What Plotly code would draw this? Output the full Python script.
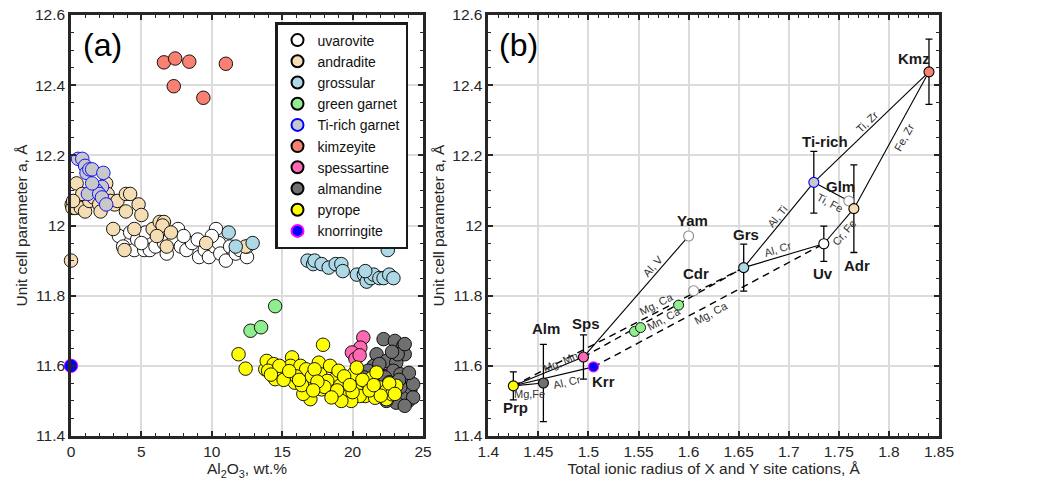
import math
import plotly.graph_objects as go

# ---------------- Panel (a) data: Al2O3 wt.% vs unit cell a ----------------
uva_x = [3.4, 3.7, 4.2, 4.5, 4.7, 5.2, 5.3, 5.6, 6.0, 6.3, 6.6, 7.0, 7.3, 7.6, 7.8, 8.2, 8.6, 9.0,
         9.1, 9.5, 9.8, 10.2, 10.3, 10.5, 10.6, 11.0, 11.3, 11.7, 12.0, 12.5, 12.5, 10.0, 8.0, 6.8, 5.0]
uva_y = [11.97, 11.94, 11.98, 11.93, 11.96, 11.93, 11.98, 11.93, 11.94, 11.98, 11.95, 11.96, 11.96,
         11.99, 11.94, 11.93, 11.95, 11.96, 11.91, 11.93, 11.91, 11.94, 11.99, 11.95, 11.92, 11.90,
         11.94, 11.92, 11.93, 11.91, 11.94, 11.97, 11.97, 11.92, 11.95]

adr_x = [0.0, 0.05, 0.1, 0.4, 0.3, 0.7, 1.0, 1.3, 0.8, 1.6, 2.0, 2.1, 2.5, 2.6, 2.8, 3.1, 3.3, 3.9,
         4.2, 3.9, 4.8, 5.0, 3.0, 3.8, 4.5, 5.8, 6.3, 6.6, 6.5, 6.1, 7.1, 6.8, 9.6, 12.4, 1.8, 0.15]
adr_y = [11.90, 12.06, 12.05, 12.12, 12.05, 12.05, 12.04, 12.07, 12.09, 12.08, 12.06, 12.04, 12.12,
         12.09, 12.07, 12.06, 12.07, 12.09, 12.09, 12.04, 12.06, 12.03, 11.99, 11.93, 11.99, 11.99,
         12.01, 12.01, 12.00, 11.97, 11.98, 11.94, 11.95, 11.94, 12.10, 12.07]

grs_x = [11.2, 11.7, 12.9, 22.5, 16.8, 17.2, 17.3, 17.8, 18.3, 18.8, 19.2, 19.3, 20.3, 20.8, 21.0,
         21.3, 21.5, 21.9, 22.2, 22.6, 22.9, 20.9]
grs_y = [11.98, 11.94, 11.95, 11.93, 11.90, 11.89, 11.90, 11.89, 11.88, 11.89, 11.89, 11.87, 11.86,
         11.86, 11.84, 11.85, 11.86, 11.85, 11.85, 11.86, 11.85, 11.87]

grn_x = [14.5, 12.75, 13.5]
grn_y = [11.77, 11.70, 11.71]

tir_x = [0.5, 0.8, 1.0, 1.1, 1.3, 1.5, 2.3, 2.2, 1.8, 1.2, 2.0, 2.2, 2.5, 1.5]
tir_y = [12.19, 12.19, 12.17, 12.15, 12.16, 12.16, 12.15, 12.11, 12.10, 12.09, 12.09, 12.08, 12.06, 12.12]

kmz_x = [6.6, 7.4, 8.4, 11.0, 7.3, 9.4]
kmz_y = [12.465, 12.476, 12.467, 12.461, 12.397, 12.364]

sps_x = [20.76, 20.55, 19.95, 20.2, 20.5, 22.2, 22.4]
sps_y = [11.681, 11.652, 11.638, 11.62, 11.63, 11.59, 11.571]

alm_x = [22.2, 23.0, 23.6, 23.7, 21.7, 21.5, 22.4, 23.1, 22.9, 23.4, 23.85, 24.1, 23.96, 23.5, 23.1,
         24.3, 23.7, 21.8, 21.1, 22.3, 22.6, 22.0, 22.4, 23.2, 23.4, 20.8, 20.5, 23.7, 24.3, 21.9,
         22.8, 24.0, 23.3, 22.7, 21.4]
alm_y = [11.676, 11.671, 11.657, 11.633, 11.633, 11.60, 11.614, 11.609, 11.586, 11.576, 11.548,
         11.53, 11.50, 11.51, 11.495, 11.51, 11.486, 11.58, 11.586, 11.567, 11.553, 11.52, 11.50,
         11.633, 11.54, 11.567, 11.54, 11.662, 11.548, 11.605, 11.64, 11.58, 11.56, 11.52, 11.53]

prp_x = [11.9, 12.4, 17.9, 13.8, 13.9, 14.4, 14.0, 14.5, 15.7, 15.6, 16.0, 15.3, 16.3, 15.9, 17.0,
         16.7, 17.6, 17.7, 17.8, 18.4, 18.75, 18.6, 19.5, 19.6, 19.0, 20.05, 20.3, 21.0, 20.9, 21.95,
         21.6, 22.4, 23.1, 21.35, 16.7, 17.1, 16.0, 15.0, 15.1, 16.5, 19.1, 20.5, 19.9, 18.2, 19.2,
         22.4, 22.8, 21.7, 14.8, 17.3, 18.0, 18.9, 19.4, 20.7, 21.2, 22.0, 17.5, 16.4, 15.5, 20.0,
         21.5, 18.5, 19.8, 22.6, 23.0, 17.2, 16.2, 14.2, 20.3]
prp_y = [11.633, 11.592, 11.66, 11.59, 11.614, 11.605, 11.586, 11.562, 11.624, 11.60, 11.581, 11.57,
         11.60, 11.552, 11.505, 11.548, 11.609, 11.576, 11.533, 11.60, 11.562, 11.524, 11.519, 11.557,
         11.586, 11.576, 11.538, 11.552, 11.514, 11.538, 11.509, 11.529, 11.543, 11.565, 11.59, 11.57,
         11.57, 11.586, 11.56, 11.52, 11.543, 11.514, 11.50, 11.557, 11.50, 11.505, 11.519, 11.581,
         11.60, 11.59, 11.54, 11.53, 11.57, 11.56, 11.53, 11.515, 11.555, 11.545, 11.585, 11.525,
         11.545, 11.51, 11.545, 11.55, 11.52, 11.53, 11.56, 11.575, 11.595]

krr_x = [0.0]
krr_y = [11.60]

# ---------------- Panel (b) data: ionic radius vs unit cell a ----------------
b_names = ["Prp", "Alm", "Sps", "Krr", "Yam", "Cdr", "Grs", "Ti-rich", "Glm", "Uv", "Adr", "Kmz"]
b_x = [1.425, 1.455, 1.495, 1.505, 1.600, 1.605, 1.655, 1.725, 1.760, 1.735, 1.765, 1.840]
b_y = [11.543, 11.551, 11.625, 11.597, 11.970, 11.814, 11.880, 12.123, 12.070, 11.948, 12.048, 12.438]
b_err = [0.040, 0.110, 0.063, 0.0, 0.0, 0.0, 0.067, 0.088, 0.0, 0.050, 0.125, 0.093]

b_green_x = [1.546, 1.552, 1.590]
b_green_y = [11.698, 11.709, 11.773]

# substitution links: (from, to, label, dashed)
links = [
    ("Prp", "Sps", "Mg, Mn", False),
    ("Prp", "Alm", "Mg,Fe", False),
    ("Prp", "Krr", "Al, Cr", False),
    ("Sps", "Yam", "Al, V", False),
    ("Grs", "Ti-rich", "Al, Ti", False),
    ("Grs", "Uv", "Al, Cr", False),
    ("Ti-rich", "Kmz", "Ti, Zr", False),
    ("Ti-rich", "Glm", "Ti, Fe", False),
    ("Uv", "Adr", "Cr, Fe", False),
    ("Adr", "Kmz", "Fe, Zr", False),
    ("Prp", "Grs", "Mg, Ca", True),
    ("Sps", "Grs", "Mn, Ca", True),
    ("Krr", "Uv", "Mg, Ca", True),
]

# ---------------- styling / layout (not data) ----------------
W, H = 1050, 484
DOM_A = [71 / W, 423 / W]
DOM_B = [488.3 / W, 939 / W]
DOM_Y = [1 - 436 / H, 1 - 15 / H]
FONT = "Liberation Sans, Arial, Helvetica, sans-serif"
AXC = "#262626"

# label placement along each link: t (fraction), rotate flag, xshift, yshift
link_style = {
    0: (0.67, True, 0, 5),
    1: (0.53, False, 0, -10),
    2: (0.67, True, 0, -9),
    3: (0.66, True, 0, 11),
    4: (0.47, True, 0, 11),
    5: (0.43, True, 0, 8),
    6: (0.46, True, 0, 10),
    7: (0.47, True, 0, -12),
    8: (0.66, True, 0, -12),
    9: (0.67, True, 0, -20),
    10: (0.62, True, 0, 9),
    11: (0.50, True, 0, -7),
    12: (0.51, True, 0, -9),
}
# mineral name label offsets (px)
name_shift = {
    "Prp": (2, -22), "Alm": (3, 55), "Sps": (3, 34), "Krr": (10, -15), "Yam": (4, 16),
    "Cdr": (2, 17), "Grs": (2, 33), "Ti-rich": (11, 41), "Glm": (-8, 14), "Uv": (-1, -30),
    "Adr": (3, -57), "Kmz": (-15, 13),
}
b_fill = {
    "Prp": "#ffff00", "Alm": "#707070", "Sps": "#ff69b4", "Krr": "#0000ff", "Yam": "#ffffff",
    "Cdr": "#ffffff", "Grs": "#add8e6", "Ti-rich": "#c8c8c8", "Glm": "#ffffff", "Uv": "#ffffff",
    "Adr": "#f5deb3", "Kmz": "#fa8072",
}
b_edge = {
    "Krr": "#ff00ff", "Yam": "#8c8c8c", "Cdr": "#8c8c8c", "Glm": "#8c8c8c", "Ti-rich": "#0000ff",
}

fig = go.Figure()

groups = [
    ("uvarovite", uva_x, uva_y, "#ffffff", "#000000"),
    ("andradite", adr_x, adr_y, "#f5deb3", "#000000"),
    ("grossular", grs_x, grs_y, "#add8e6", "#000000"),
    ("green garnet", grn_x, grn_y, "#90ee90", "#000000"),
    ("Ti-rich garnet", tir_x, tir_y, "#c8c8c8", "#0000ff"),
    ("kimzeyite", kmz_x, kmz_y, "#fa8072", "#000000"),
    ("spessartine", sps_x, sps_y, "#ff69b4", "#000000"),
    ("almandine", alm_x, alm_y, "#707070", "#000000"),
    ("pyrope", prp_x, prp_y, "#ffff00", "#000000"),
    ("knorringite", krr_x, krr_y, "#0000ff", "#ff00ff"),
]
for name, xs, ys, fc, ec in groups:
    fig.add_trace(go.Scatter(
        x=xs, y=ys, mode="markers", name=name, xaxis="x", yaxis="y", cliponaxis=False,
        marker=dict(size=13.5, color=fc, line=dict(color=ec, width=0.9)),
    ))

# panel (b) lines
idx = {n: i for i, n in enumerate(b_names)}
for a, b, lab, dashed in links:
    i, j = idx[a], idx[b]
    fig.add_trace(go.Scatter(
        x=[b_x[i], b_x[j]], y=[b_y[i], b_y[j]], mode="lines", xaxis="x2", yaxis="y2",
        showlegend=False, hoverinfo="skip",
        line=dict(color="#000000", width=1.4 if dashed else 1.1,
                  dash="7px,5px" if dashed else "solid"),
    ))

# error bars
ex = [b_x[i] for i in range(len(b_names)) if b_err[i] > 0]
ey = [b_y[i] for i in range(len(b_names)) if b_err[i] > 0]
ee = [b_err[i] for i in range(len(b_names)) if b_err[i] > 0]
fig.add_trace(go.Scatter(
    x=ex, y=ey, mode="markers", xaxis="x2", yaxis="y2", showlegend=False, hoverinfo="skip",
    marker=dict(size=1, color="rgba(0,0,0,0)"),
    error_y=dict(type="data", array=ee, visible=True, color="#000000", thickness=1.3, width=3.5),
))

fig.add_trace(go.Scatter(
    x=b_green_x, y=b_green_y, mode="markers", xaxis="x2", yaxis="y2", showlegend=False,
    marker=dict(size=10, color="#90ee90", line=dict(color="#000000", width=0.9)),
))
fig.add_trace(go.Scatter(
    x=b_x, y=b_y, mode="markers", xaxis="x2", yaxis="y2", showlegend=False, cliponaxis=False,
    marker=dict(size=10, color=[b_fill[n] for n in b_names],
                line=dict(color=[b_edge.get(n, "#000000") for n in b_names], width=1.1)),
))

annotations = []
# mineral labels
for n, x, y in zip(b_names, b_x, b_y):
    dx, dy = name_shift[n]
    annotations.append(dict(
        x=x, y=y, xref="x2", yref="y2", text="<b>%s</b>" % n, showarrow=False,
        xanchor="center", yanchor="middle",
        xshift=dx, yshift=dy, font=dict(family=FONT, size=15, color="#1a1a1a"),
    ))

# link labels
pxu = (DOM_B[1] - DOM_B[0]) * W / (1.85 - 1.4)
pyu = (DOM_Y[1] - DOM_Y[0]) * H / (12.6 - 11.4)
for k, (a, b, lab, dashed) in enumerate(links):
    i, j = idx[a], idx[b]
    t, rot, dx, dy = link_style[k]
    xm = b_x[i] + t * (b_x[j] - b_x[i])
    ym = b_y[i] + t * (b_y[j] - b_y[i])
    ang = -math.degrees(math.atan2((b_y[j] - b_y[i]) * pyu, (b_x[j] - b_x[i]) * pxu)) if rot else 0
    annotations.append(dict(
        x=xm, y=ym, xref="x2", yref="y2", text=lab, showarrow=False, textangle=ang,
        xanchor="center", yanchor="middle",
        xshift=dx, yshift=dy, font=dict(family=FONT, size=11, color="#333333"),
    ))

annotations.append(dict(x=102 / W, y=1 - 45 / H, xref="paper", yref="paper", text="(a)",
                        xanchor="center", yanchor="middle",
                        showarrow=False, font=dict(family=FONT, size=32, color="#000000")))
annotations.append(dict(x=518 / W, y=1 - 45 / H, xref="paper", yref="paper", text="(b)",
                        xanchor="center", yanchor="middle",
                        showarrow=False, font=dict(family=FONT, size=32, color="#000000")))

y_vals = [11.4, 11.6, 11.8, 12.0, 12.2, 12.4, 12.6]
y_text = ["11.4", "11.6", "11.8", "12", "12.2", "12.4", "12.6"]
xb_vals = [1.4, 1.45, 1.5, 1.55, 1.6, 1.65, 1.7, 1.75, 1.8, 1.85]
xb_text = ["1.4", "1.45", "1.5", "1.55", "1.6", "1.65", "1.7", "1.75", "1.8", "1.85"]
xa_vals = [0, 5, 10, 15, 20, 25]
xa_text = ["0", "5", "10", "15", "20", "25"]


def ax(domain, rng, vals, text, title, minor_dtick, anchor):
    return dict(
        domain=domain, range=rng, tickmode="array", tickvals=vals, ticktext=text,
        showgrid=True, gridcolor="#dcdcdc", gridwidth=1.5, zeroline=False,
        showline=True, linecolor=AXC, linewidth=2.5, mirror="allticks",
        ticks="inside", ticklen=5, tickwidth=1.5, tickcolor=AXC,
        minor=dict(ticks="inside", ticklen=3, tickwidth=1.3, tickcolor=AXC, dtick=minor_dtick,
                   showgrid=False),
        tickfont=dict(family=FONT, size=15.5, color=AXC),
        title=dict(text=title, font=dict(family=FONT, size=15.5, color=AXC), standoff=4),
        automargin=False, anchor=anchor,
    )


fig.update_layout(
    width=W, height=H, margin=dict(l=0, r=0, t=0, b=0), autosize=False,
    paper_bgcolor="#ffffff", plot_bgcolor="#ffffff",
    xaxis=ax(DOM_A, [0, 25], xa_vals, xa_text, "Al<sub>2</sub>O<sub>3</sub>, wt.%", 1, "y"),
    yaxis=ax(DOM_Y, [11.4, 12.6], y_vals, y_text, "Unit cell parameter a, Å", 0.05, "x"),
    xaxis2=ax(DOM_B, [1.4, 1.85], xb_vals, xb_text,
              "Total ionic radius of X and Y site cations, Å", 0.01, "y2"),
    yaxis2=ax(DOM_Y, [11.4, 12.6], y_vals, y_text, "Unit cell parameter a, Å", 0.05, "x2"),
    legend=dict(x=275 / W, y=1 - 22 / H, xanchor="left", yanchor="top",
                bgcolor="#ffffff", bordercolor="#1a1a1a", borderwidth=2.5,
                font=dict(family=FONT, size=14, color="#111111"), tracegroupgap=0,
                itemsizing="constant"),
    annotations=annotations,
    showlegend=True,
)

fig.write_html("out.html")
